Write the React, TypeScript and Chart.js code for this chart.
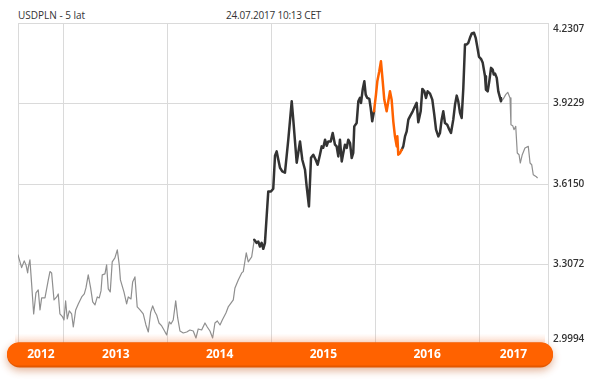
import React, { useEffect, useRef } from "react";
import { Chart, registerables } from "chart.js";

Chart.register(...registerables);

const chartTitle = "USDPLN - 5 lat";
const timestamp = "24.07.2017 10:13 CET";
const yearLabels = ["2012", "2013", "2014", "2015", "2016", "2017"];
const yTicks = [2.9994, 3.3072, 3.615, 3.9229, 4.2307];
const xStart = 2012.557;
const xEnd = 2017.665;

// decimal-year dates and USDPLN closes, split by highlighted period
const earlyDates = [
  2012.557, 2012.592, 2012.617, 2012.634, 2012.65, 2012.656, 2012.672, 2012.689, 2012.708, 2012.73,
  2012.752, 2012.769, 2012.785, 2012.817, 2012.849, 2012.865, 2012.881, 2012.904, 2012.93, 2012.945,
  2012.961, 2012.987, 2013.0, 2013.016, 2013.032, 2013.051, 2013.074, 2013.09, 2013.113, 2013.138,
  2013.171, 2013.196, 2013.212, 2013.234, 2013.257, 2013.277, 2013.299, 2013.321, 2013.34, 2013.357,
  2013.369, 2013.395, 2013.411, 2013.427, 2013.446, 2013.465, 2013.491, 2013.514, 2013.533, 2013.544,
  2013.578, 2013.604, 2013.62, 2013.646, 2013.662, 2013.684, 2013.706, 2013.733, 2013.764, 2013.79,
  2013.813, 2013.836, 2013.855, 2013.877, 2013.893, 2013.916, 2013.942, 2013.964, 2013.99, 2014.015,
  2014.031, 2014.053, 2014.077, 2014.096, 2014.118, 2014.15, 2014.183, 2014.214, 2014.246, 2014.272,
  2014.294, 2014.327, 2014.359, 2014.381, 2014.407, 2014.433, 2014.455, 2014.478, 2014.504, 2014.526,
  2014.561, 2014.583, 2014.632, 2014.648, 2014.68, 2014.713, 2014.728, 2014.757, 2014.776, 2014.809, 2014.834,
];
const earlyValues = [
  3.3441, 3.2954, 3.3211, 3.3058, 3.2751, 3.2954, 3.3249, 3.2292, 3.1181, 3.1985,
  3.21, 3.1334, 3.1794, 3.1794, 3.2483, 3.2801, 3.2751, 3.1717, 3.1832, 3.1947,
  3.1181, 3.1066, 3.0951, 3.1679, 3.099, 3.1296, 3.1181, 3.0683, 3.1334, 3.1564,
  3.1832, 3.1947, 3.2177, 3.2675, 3.2177, 3.1641, 3.1526, 3.1832, 3.1794, 3.2062,
  3.2675, 3.2713, 3.3058, 3.2139, 3.2024, 3.3173, 3.3326, 3.3632, 3.3058, 3.2483,
  3.2024, 3.1564, 3.1832, 3.1756, 3.2407, 3.2598, 3.1449, 3.1334, 3.1181, 3.076,
  3.0492, 3.1258, 3.1488, 3.1258, 3.1143, 3.0836, 3.0722, 3.0568, 3.0377, 3.0875,
  3.0798, 3.0951, 3.1679, 3.1028, 3.053, 3.0453, 3.0492, 3.0568, 3.053, 3.0262,
  3.0607, 3.0568, 3.0836, 3.0683, 3.053, 3.0262, 3.0836, 3.0913, 3.076, 3.0951,
  3.1219, 3.1449, 3.1717, 3.2177, 3.2483, 3.2751, 3.2801, 3.3517, 3.3173, 3.3364, 3.4015,
];
const rallyDates = [
  2014.857, 2014.873, 2014.889, 2014.905, 2014.921, 2014.937, 2014.969, 2014.995, 2015.017, 2015.034,
  2015.05, 2015.066, 2015.082, 2015.104, 2015.13, 2015.162, 2015.195, 2015.21, 2015.243, 2015.258,
  2015.275, 2015.297, 2015.323, 2015.339, 2015.361, 2015.381, 2015.403, 2015.426, 2015.445, 2015.467,
  2015.484, 2015.499, 2015.516, 2015.532, 2015.547, 2015.571, 2015.59, 2015.612, 2015.628, 2015.644,
  2015.66, 2015.677, 2015.692, 2015.708, 2015.725, 2015.74, 2015.757, 2015.773, 2015.788, 2015.798,
  2015.821, 2015.837, 2015.853, 2015.863, 2015.879, 2015.895, 2015.908, 2015.923, 2015.943, 2015.956,
  2015.971, 2015.988,
];
const rallyValues = [
  3.39, 3.395, 3.3759, 3.39, 3.3671, 3.39, 3.5865, 3.5865, 3.5969, 3.7232,
  3.7397, 3.7079, 3.6773, 3.6631, 3.6581, 3.7845, 3.9312, 3.8611, 3.6964, 3.7347,
  3.778, 3.7079, 3.6696, 3.6057, 3.5291, 3.7156, 3.7271, 3.7079, 3.6888, 3.7271,
  3.7589, 3.7539, 3.7845, 3.7615, 3.778, 3.778, 3.8102, 3.7654, 3.7589, 3.7206,
  3.7845, 3.7014, 3.7336, 3.7654, 3.7527, 3.7845, 3.7719, 3.7144, 3.7336, 3.8355,
  3.8485, 3.9312, 3.9442, 3.9251, 3.976, 4.0078, 3.9569, 3.9442, 3.9404, 3.9059,
  3.8546, 3.8929,
];
const highlightDates = [
  2016.007, 2016.02, 2016.039, 2016.055, 2016.072, 2016.087, 2016.11, 2016.126, 2016.142, 2016.158,
  2016.174, 2016.19, 2016.207, 2016.213, 2016.222, 2016.239, 2016.255,
];
const highlightValues = [
  3.9569, 4.0078, 4.0461, 4.0844, 4.0078, 3.9377, 3.8929, 3.9312, 3.9695, 3.9377,
  3.8546, 3.7972, 3.7589, 3.7972, 3.7271, 3.7336, 3.7462,
];
const peakDates = [
  2016.27, 2016.287, 2016.303, 2016.319, 2016.335, 2016.361, 2016.383, 2016.399, 2016.415, 2016.438,
  2016.454, 2016.473, 2016.489, 2016.505, 2016.528, 2016.55, 2016.569, 2016.586, 2016.608, 2016.624,
  2016.64, 2016.656, 2016.672, 2016.694, 2016.714, 2016.73, 2016.752, 2016.769, 2016.785, 2016.8,
  2016.817, 2016.833, 2016.849, 2016.865, 2016.882, 2016.897, 2016.913, 2016.93, 2016.952, 2016.968,
  2016.988, 2017.0, 2017.019, 2017.036, 2017.058, 2017.067, 2017.084, 2017.099, 2017.116, 2017.132,
  2017.142, 2017.154, 2017.171, 2017.186, 2017.203, 2017.212,
];
const peakValues = [
  3.7589, 3.7972, 3.8163, 3.8611, 3.8738, 3.8929, 3.9121, 3.9251, 3.8508, 3.8929,
  3.9787, 3.9695, 3.9442, 3.9695, 3.9607, 3.9377, 3.8803, 3.8228, 3.7972, 3.8102,
  3.8611, 3.8929, 3.8485, 3.842, 3.8228, 3.8102, 3.8611, 3.9186, 3.953, 3.9312,
  3.8868, 3.8676, 3.9825, 4.1484, 4.1484, 4.1549, 4.174, 4.1905, 4.1932, 4.174,
  4.1292, 4.1013, 4.0936, 4.0783, 4.027, 3.976, 3.9695, 4.0078, 4.0591, 4.0526,
  4.0335, 4.0373, 4.0208, 3.9695, 3.9442, 3.9312,
];
const lateDates = [
  2017.234, 2017.257, 2017.277, 2017.299, 2017.308, 2017.325, 2017.337, 2017.354, 2017.369, 2017.386,
  2017.398, 2017.417, 2017.443, 2017.475, 2017.492, 2017.508, 2017.523, 2017.549, 2017.562,
];
const lateValues = [
  3.9404, 3.9569, 3.9657, 3.9442, 3.842, 3.8381, 3.8228, 3.8355, 3.7336, 3.7271,
  3.6953, 3.7271, 3.7527, 3.7589, 3.6953, 3.6888, 3.6505, 3.644, 3.639,
];

const FONT = '"Open Sans", "DejaVu Sans", sans-serif';
const ORANGE = "#ff6200";
const DARK = "#333333";
const GRAY = "#8f8f8f";
const GRID = "#dadada";

type Pt = { x: number; y: number };
const toPoints = (d: number[], v: number[], prev?: Pt): Pt[] => {
  const pts = d.map((x, i) => ({ x, y: v[i] }));
  return prev ? [prev, ...pts] : pts;
};

const labelTicks = yearLabels.map((lab) => {
  const y = Number(lab);
  return { value: (Math.max(y, xStart) + Math.min(y + 1, xEnd)) / 2, label: lab };
});

const bandPlugin = {
  id: "yearBand",
  afterDatasetsDraw(chart: any) {
    const { ctx, chartArea } = chart;
    const xs = chart.scales.x;
    const left = 7;
    const right = chartArea.right + 5;
    const top = chartArea.bottom - 2.5;
    const h = 25;
    ctx.save();
    // upward glow
    const g = ctx.createLinearGradient(0, top - 9, 0, top + 1);
    g.addColorStop(0, "rgba(255, 140, 80, 0)");
    g.addColorStop(1, "rgba(255, 140, 80, 0.28)");
    ctx.fillStyle = g;
    ctx.fillRect(left + 8, top - 9, right - left - 16, 10);
    // drop shadow + darker bottom rim
    ctx.shadowColor = "rgba(190, 80, 20, 0.45)";
    ctx.shadowBlur = 9;
    ctx.shadowOffsetY = 3;
    ctx.fillStyle = "#e35700";
    ctx.beginPath();
    ctx.roundRect(left, top, right - left, h, 12.5);
    ctx.fill();
    ctx.shadowColor = "transparent";
    ctx.fillStyle = ORANGE;
    ctx.beginPath();
    ctx.roundRect(left, top, right - left, h - 2, 12);
    ctx.fill();
    // year labels on the band, positioned by the x scale
    ctx.fillStyle = "#ffffff";
    ctx.font = `bold 12px ${FONT}`;
    ctx.textAlign = "center";
    ctx.textBaseline = "middle";
    labelTicks.forEach((t) => {
      ctx.fillText(t.label, xs.getPixelForValue(t.value), top + 12.5);
    });
    ctx.restore();
  },
};

export default function App() {
  const canvasRef = useRef<HTMLCanvasElement | null>(null);

  useEffect(() => {
    if (!canvasRef.current) return;
    const early = toPoints(earlyDates, earlyValues);
    const rally = toPoints(rallyDates, rallyValues, early[early.length - 1]);
    const hi = toPoints(highlightDates, highlightValues, rally[rally.length - 1]);
    const peak = toPoints(peakDates, peakValues, hi[hi.length - 1]);
    const late = toPoints(lateDates, lateValues, peak[peak.length - 1]);

    const boundaries = [xStart, 2013, 2014, 2015, 2016, 2017, xEnd];

    const line = (data: Pt[], color: string, width: number) => ({
      data,
      borderColor: color,
      borderWidth: width,
      pointRadius: 0,
      tension: 0,
      fill: false,
      borderJoinStyle: "round" as const,
      borderCapStyle: "round" as const,
    });

    const chart = new Chart(canvasRef.current, {
      type: "line",
      data: {
        datasets: [
          line(hi, ORANGE, 2.5),
          line(rally, DARK, 2.5),
          line(peak, DARK, 2.5),
          line(early, GRAY, 1.2),
          line(late, GRAY, 1.2),
        ],
      },
      options: {
        animation: false,
        responsive: true,
        maintainAspectRatio: false,
        layout: { padding: { left: 18, right: 0, top: 23, bottom: 40 } },
        plugins: { legend: { display: false }, tooltip: { enabled: false }, title: { display: false } },
        scales: {
          x: {
            type: "linear",
            min: xStart,
            max: xEnd,
            position: "bottom",
            afterBuildTicks: (s: any) => {
              s.ticks = boundaries.map((v) => ({ value: v }));
            },
            afterFit: (s: any) => {
              s.height = 0;
            },
            grid: { color: GRID, drawTicks: false, lineWidth: 1 },
            border: { display: false },
            ticks: { display: false },
          },
          y: {
            type: "linear",
            position: "right",
            min: yTicks[0],
            max: yTicks[yTicks.length - 1],
            afterBuildTicks: (s: any) => {
              s.ticks = yTicks.map((v) => ({ value: v }));
            },
            afterFit: (s: any) => {
              s.width = 52;
            },
            grid: { color: GRID, drawTicks: false, lineWidth: 1 },
            border: { display: false },
            ticks: {
              padding: 5,
              color: "#333333",
              font: { family: FONT, size: 10, weight: "600" },
              callback: (v: any) => {
                const n = Number(v);
                const s = n.toFixed(4);
                if (n === yTicks[yTicks.length - 1]) return ["", s];
                if (n === yTicks[0]) return [s, ""];
                return s;
              },
            },
          },
        },
      },
      plugins: [bandPlugin],
    });
    return () => chart.destroy();
  }, []);

  const textStyle: React.CSSProperties = {
    position: "absolute",
    top: 8,
    fontFamily: FONT,
    fontSize: 10,
    lineHeight: "14px",
    color: "#333",
    whiteSpace: "nowrap",
  };

  return (
    <div style={{ position: "fixed", left: 0, top: 0, width: 600, height: 385, background: "#fff" }}>
      <div style={{ ...textStyle, left: 18 }}>{chartTitle}</div>
      <div style={{ ...textStyle, left: 226, letterSpacing: "-0.2px" }}>{timestamp}</div>
      <canvas ref={canvasRef} style={{ position: "absolute", left: 0, top: 0, width: 600, height: 385 }} />
    </div>
  );
}
